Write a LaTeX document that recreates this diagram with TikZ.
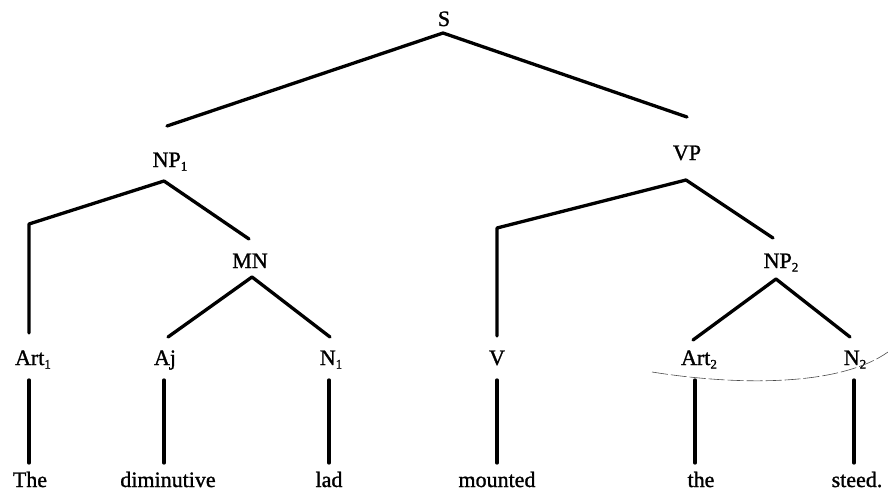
\documentclass[tikz,border=0pt]{standalone}
\usepackage{fontspec}
\setmainfont{Liberation Serif}[FakeBold=1.2]
\newcommand\sbs[1]{\raisebox{-0.35ex}{\fontsize{13}{13}\selectfont #1}}
\begin{document}
\begin{tikzpicture}[x=1pt,y=-1pt,
  lbl/.style={anchor=base,inner sep=0pt,font=\fontsize{22}{22}\selectfont},
  edge/.style={line width=3.3pt,line cap=round,line join=round}]
\useasboundingbox (0,0) rectangle (888,493);
% category labels
\node[lbl] (S) at (444,26) {S};
\node[lbl] (NP1) at (170,167) {NP\sbs{1}};
\node[lbl] (VP) at (687,160) {VP};
\node[lbl] (MN) at (250,268) {MN};
\node[lbl] (NP2) at (781,268) {NP\sbs{2}};
\node[lbl] (Art1) at (33,365) {Art\sbs{1}};
\node[lbl] (Aj) at (165,365) {Aj};
\node[lbl] (N1) at (331,365) {N\sbs{1}};
\node[lbl] (V) at (497,365) {V};
\node[lbl] (Art2) at (699,365) {Art\sbs{2}};
\node[lbl] (N2) at (855,365) {N\sbs{2}};
% words
\node[lbl] (w1) at (30,487) {The};
\node[lbl] (w2) at (168,487) {diminutive};
\node[lbl] (w3) at (329,487) {lad};
\node[lbl] (w4) at (497,487) {mounted};
\node[lbl] (w5) at (701,487) {the};
\node[lbl] (w6) at (857,487) {steed.};
% branch points
\coordinate (sA) at (443,33);
\coordinate (sL) at (167,126);
\coordinate (sR) at (687,117);
\coordinate (np1A) at (164,181);
\coordinate (np1K) at (29,224);
\coordinate (np1B) at (29,333);
\coordinate (np1R) at (249,239);
\coordinate (vpA) at (686,180);
\coordinate (vpK) at (497,228);
\coordinate (vpB) at (497,336);
\coordinate (vpR) at (773,238);
\coordinate (mnA) at (252,277);
\coordinate (mnL) at (168,337);
\coordinate (mnR) at (330,337);
\coordinate (np2A) at (776,279);
\coordinate (np2L) at (693,340);
\coordinate (np2R) at (850,337);
\foreach \n/\x in {a/29,b/164,c/329,d/497,e/695,f/854}{
  \coordinate (\n t) at (\x,380);
  \coordinate (\n b) at (\x,463);
}
% tree edges
\draw[edge] (sL) -- (sA) -- (sR);
\draw[edge] (np1B) -- (np1K) -- (np1A) -- (np1R);
\draw[edge] (vpB) -- (vpK) -- (vpA) -- (vpR);
\draw[edge] (mnL) -- (mnA) -- (mnR);
\draw[edge] (np2L) -- (np2A) -- (np2R);
\foreach \n in {a,b,c,d,e,f}{ \draw[edge] (\n t) -- (\n b); }
% thin curve
\coordinate (cS) at (652,372);
\coordinate (cE) at (888,352);
\draw[line width=0.6pt,dash pattern=on 16pt off 3pt,black!70] (cS) .. controls (740,386) and (840,386) .. (cE);
\end{tikzpicture}
\end{document}
